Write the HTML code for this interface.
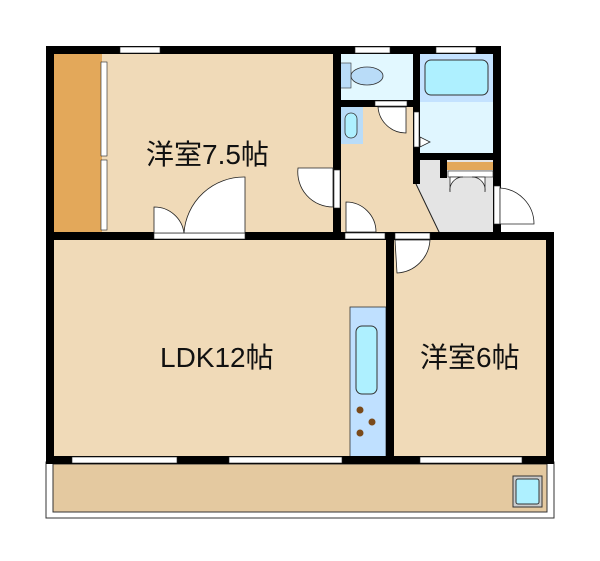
<!DOCTYPE html><html><head><meta charset="utf-8"><style>body{margin:0;background:#fff}svg{display:block}text{font-family:"Liberation Sans","Noto Sans CJK JP",sans-serif;fill:#111}</style></head><body>
<svg width="600" height="561" viewBox="0 0 600 561">
<rect x="46" y="462" width="508" height="56" fill="#fff" stroke="#333" stroke-width="1"/>
<rect x="53" y="464" width="494" height="48" fill="#e4c9a0" stroke="#333" stroke-width="1"/>
<rect x="513" y="476" width="29" height="31" fill="#ccc" stroke="#333"/>
<rect x="516" y="479" width="23" height="25" rx="2" fill="#aef0ff" stroke="#333"/>
<rect x="54" y="54" width="282" height="180" fill="#f0dab8"/>
<rect x="54" y="54" width="48" height="180" fill="#e3a85a"/>
<rect x="338" y="104" width="80" height="130" fill="#f0dab8"/>
<rect x="338" y="54" width="78" height="48" fill="#e2f8ff"/>
<rect x="340" y="63" width="11" height="25" fill="#b9dcf8" stroke="#333" stroke-width=".6"/>
<ellipse cx="367" cy="76" rx="16" ry="9" fill="#b9dcf8" stroke="#333" stroke-width=".8"/>
<rect x="340" y="107" width="23" height="37" fill="#b9dcf8"/>
<rect x="345" y="113" width="12" height="25" rx="6" fill="#aef0ff" stroke="#333" stroke-width=".8"/>
<rect x="418" y="54" width="78" height="102" fill="#e0f6ff"/>
<rect x="418" y="54" width="78" height="48" fill="#c4e2ff"/>
<rect x="425" y="60" width="63" height="35" rx="6" fill="#aef0ff" stroke="#333"/>
<polygon points="416,184 420,160 494,160 494,234 440,234" fill="#e4e4e4"/>
<polygon points="338,160 416,184 440,234 338,234" fill="#f0dab8"/>
<line x1="416" y1="184" x2="440" y2="234" stroke="#222"/>
<rect x="447" y="162" width="46" height="8" fill="#e3a85a"/>
<rect x="440" y="160" width="7" height="18" fill="#000"/>
<rect x="54" y="238" width="334" height="222" fill="#f0dab8"/>
<rect x="392" y="238" width="158" height="222" fill="#f0dab8"/>
<rect x="350" y="307" width="36" height="152" fill="#bfe0ff" stroke="#333" stroke-width=".8"/>
<rect x="356" y="326" width="21" height="68" rx="6" fill="#aef0ff" stroke="#333"/>
<circle cx="360" cy="410" r="3.5" fill="#7a4a1a"/><circle cx="372" cy="422" r="3.5" fill="#7a4a1a"/><circle cx="360" cy="433" r="3.5" fill="#7a4a1a"/>
<g fill="#000">
<rect x="46" y="46" width="455" height="8"/>
<rect x="46" y="46" width="8" height="418"/>
<rect x="333" y="46" width="8" height="190"/>
<rect x="413" y="46" width="7" height="138"/>
<rect x="493" y="46" width="8" height="190"/>
<rect x="340" y="100" width="73" height="7"/>
<rect x="413" y="153" width="88" height="7"/>
<rect x="46" y="232" width="508" height="8"/>
<rect x="386" y="232" width="8" height="230"/>
<rect x="546" y="232" width="8" height="232"/>
<rect x="46" y="456" width="508" height="8"/>
</g>
<g fill="#fff" stroke="#222" stroke-width=".6">
<rect x="120" y="47" width="40" height="6"/><rect x="355" y="47" width="35" height="6"/><rect x="436" y="47" width="40" height="6"/>
<rect x="101" y="62" width="6" height="94"/><rect x="101" y="160" width="6" height="70"/>
<rect x="72" y="457" width="105" height="6"/><rect x="229" y="457" width="113" height="6"/><rect x="420" y="457" width="102" height="6"/>
<rect x="154" y="233" width="91" height="6"/><rect x="345" y="233" width="40" height="6"/>
<rect x="375" y="101" width="32" height="5"/><rect x="414" y="112" width="5" height="35"/>
<rect x="334" y="170" width="6" height="38"/><rect x="494" y="186" width="6" height="38"/>
<rect x="395" y="233" width="35" height="6"/>
<rect x="448" y="171" width="45" height="6"/>
</g>
<g fill="#fff" stroke="#222" stroke-width=".8">
<path d="M154 233 V207 A30 30 0 0 1 184 233 Z"/>
<path d="M245 233 V177 A60 60 0 0 0 184 233 Z"/>
<path d="M298 168 H333 V207 A35 35 0 0 1 298 168 Z"/>
<path d="M346 232 V202 A30 30 0 0 1 376 232 Z"/>
<path d="M378 107 H406 V133 A28 28 0 0 1 378 107 Z"/>
<path d="M395 240 H430 A35 35 0 0 1 397 273 Z"/>
<path d="M500 188 A36 36 0 0 1 534 224 H500 Z"/>
<path d="M450 177 V192 A13 13 0 0 1 463 177 Z"/><path d="M485 177 V192 A13 13 0 0 0 472 177 Z"/>
<path d="M420 147 V137 L430 142 Z"/>
</g>
<text x="146" y="164" font-size="28">洋室7.5帖</text>
<text x="160" y="367" font-size="28">LDK12帖</text>
<text x="420" y="367" font-size="28">洋室6帖</text>
</svg></body></html>
